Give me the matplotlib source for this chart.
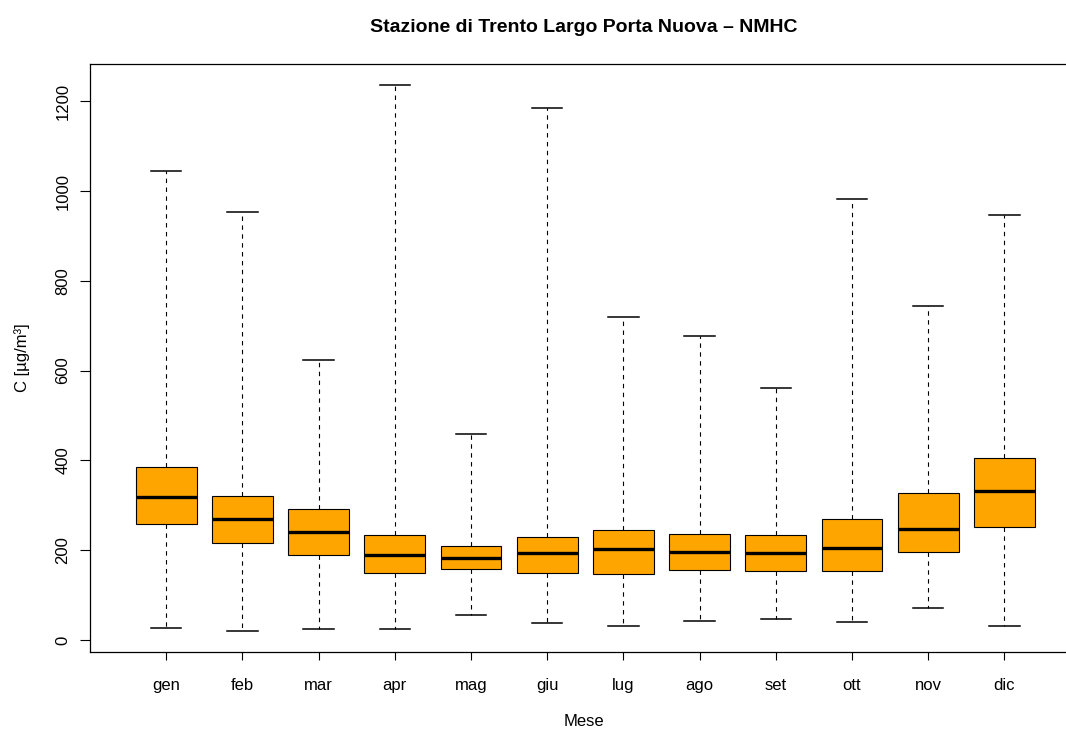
import matplotlib
matplotlib.use('Agg')
import matplotlib.pyplot as plt

plt.rcParams['font.family'] = ['Liberation Sans', 'DejaVu Sans']
plt.rcParams['font.size'] = 12

mesi = ['gen', 'feb', 'mar', 'apr', 'mag', 'giu',
        'lug', 'ago', 'set', 'ott', 'nov', 'dic']
whis_lo = [26, 20, 24.5, 24, 55, 38, 30.5, 42, 46, 40, 70.5, 30.5]
q1 = [258.5, 215, 189, 148, 157, 150, 146, 155.5, 152.5, 152.5, 196, 251]
mediana = [318, 269.5, 240.5, 190, 183.5, 193, 203.5, 195.5, 194, 205, 247.5, 331.5]
q3 = [385, 321, 292, 233.5, 209.5, 229, 245, 235, 234, 268.5, 327.5, 405]
whis_hi = [1044.5, 953, 623, 1235.5, 459, 1185.5, 718.5, 677, 561, 983, 743.5, 947]

stats = []
for i in range(len(mesi)):
    stats.append(dict(label=mesi[i], whislo=whis_lo[i], q1=q1[i], med=mediana[i],
                      q3=q3[i], whishi=whis_hi[i], fliers=[]))

fig = plt.figure(figsize=(10.66, 7.3), dpi=100)
# il riquadro a destra esce dall'immagine, come nell'originale
ax = fig.add_axes([90/1066, 78/730, 990.6/1066, 588/730])

ax.bxp(stats, positions=range(1, 13), widths=0.8, patch_artist=True,
       showfliers=False,
       boxprops=dict(facecolor='#FFA500', edgecolor='black', linewidth=0.8),
       medianprops=dict(color='black', linewidth=2.4, solid_capstyle='butt'),
       whiskerprops=dict(color='black', linewidth=0.8, linestyle=(0, (4, 4))),
       capprops=dict(color='black', linewidth=1.1),
       capwidths=0.4)

ax.set_xlim(0, 13)
ax.set_ylim(-27, 1283)
ax.set_yticks(range(0, 1201, 200))
ax.set_yticklabels([str(v) for v in range(0, 1201, 200)], rotation=90, va='center')
ax.set_xticks(range(1, 13))
ax.set_xticklabels(mesi)
ax.tick_params(axis='y', length=7, width=0.8, pad=7)
ax.tick_params(axis='x', length=6, width=0.8, pad=13)
for s in ax.spines.values():
    s.set_linewidth(0.9)

ax.set_xlabel('Mese', va='center')
ax.xaxis.set_label_coords((584 - 90) / 990.6, (9 - 78) / 588)
ax.set_ylabel('C [µg/m³]', va='center')
ax.yaxis.set_label_coords((22 - 90) / 990.6, 0.5)
fig.suptitle('Stazione di Trento Largo Porta Nuova – NMHC', fontsize=14,
             fontweight='bold', x=584 / 1066, y=1 - 28 / 730, va='center')

fig.savefig('out.png', dpi=100)
